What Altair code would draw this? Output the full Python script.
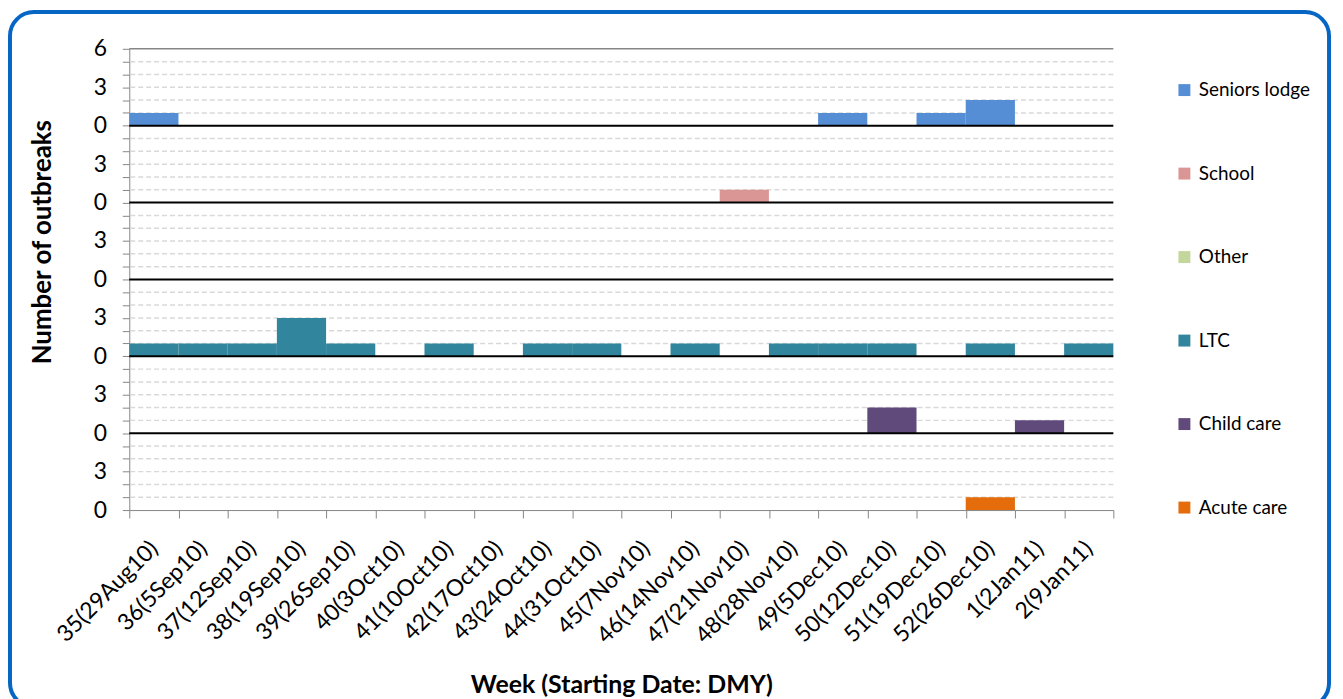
import altair as alt
import pandas as pd

weeks = ["35(29Aug10)", "36(5Sep10)", "37(12Sep10)", "38(19Sep10)", "39(26Sep10)",
         "40(3Oct10)", "41(10Oct10)", "42(17Oct10)", "43(24Oct10)", "44(31Oct10)",
         "45(7Nov10)", "46(14Nov10)", "47(21Nov10)", "48(28Nov10)", "49(5Dec10)",
         "50(12Dec10)", "51(19Dec10)", "52(26Dec10)", "1(2Jan11)", "2(9Jan11)"]

acute_care    = [0, 0, 0, 0, 0, 0, 0, 0, 0, 0, 0, 0, 0, 0, 0, 0, 0, 1, 0, 0]
child_care    = [0, 0, 0, 0, 0, 0, 0, 0, 0, 0, 0, 0, 0, 0, 0, 2, 0, 0, 1, 0]
ltc           = [1, 1, 1, 3, 1, 0, 1, 0, 1, 1, 0, 1, 0, 1, 1, 1, 0, 1, 0, 1]
other         = [0, 0, 0, 0, 0, 0, 0, 0, 0, 0, 0, 0, 0, 0, 0, 0, 0, 0, 0, 0]
school        = [0, 0, 0, 0, 0, 0, 0, 0, 0, 0, 0, 0, 1, 0, 0, 0, 0, 0, 0, 0]
seniors_lodge = [1, 0, 0, 0, 0, 0, 0, 0, 0, 0, 0, 0, 0, 0, 1, 0, 1, 2, 0, 0]

# panels from bottom to top
categories = ["Acute care", "Child care", "LTC", "Other", "School", "Seniors lodge"]
series = [acute_care, child_care, ltc, other, school, seniors_lodge]
colors = ["#E46C0A", "#604A7B", "#31859C", "#C3D69B", "#D99694", "#558ED5"]
legend_order = list(reversed(categories))
legend_colors = list(reversed(colors))

PANEL = 6
TOTAL = PANEL * len(categories)

rows = []
for i, (cat, vals) in enumerate(zip(categories, series)):
    for w, v in zip(weeks, vals):
        if v > 0:
            rows.append({"week": w, "category": cat, "base": i * PANEL, "top": i * PANEL + v})
bars_df = pd.DataFrame(rows)

grid_df = pd.DataFrame({"base": [v for v in range(1, TOTAL) if v % PANEL != 0]})
base_df = pd.DataFrame({"base": [i * PANEL for i in range(1, len(categories))]})
top_df = pd.DataFrame({"base": [TOTAL]})

FONT = "Lato"
yscale = alt.Scale(domain=[0, TOTAL], nice=False, zero=True)

label_expr = ("datum.value % 3 != 0 ? '' : (datum.value == " + str(TOTAL) +
              " ? '6' : (datum.value % " + str(PANEL) + " == 0 ? '0' : '3'))")

yaxis = alt.Axis(values=list(range(0, TOTAL + 1)), labelExpr=label_expr,
                 labelOverlap=False, labelBound=False, labelFlush=False,
                 grid=False, tickSize=7,
                 tickColor="#868686", domainColor="#868686",
                 labelFont=FONT, labelFontSize=23, labelColor="#000000",
                 labelPadding=16, title="Number of outbreaks",
                 titleFont=FONT, titleFontSize=26, titleFontWeight="bold",
                 titleColor="#000000", titleX=-87, titleY=194,
                 titleAngle=-90, titleBaseline="middle", titleAlign="center")

def ychan():
    return alt.Y("base:Q", scale=yscale, axis=yaxis)

bars = alt.Chart(bars_df).mark_bar().encode(
    x=alt.X("week:N", sort=weeks,
            scale=alt.Scale(domain=weeks, paddingInner=0, paddingOuter=0),
            axis=alt.Axis(tickBand="extent", labelAngle=-45, labelAlign="right",
                          labelBaseline="middle", labelFont=FONT, labelFontSize=23,
                          labelColor="#000000", labelPadding=27, tickSize=8,
                          tickColor="#868686", domainColor="#868686",
                          title="Week (Starting Date: DMY)", titleFont=FONT,
                          titleFontSize=25, titleFontWeight="bold", titleColor="#000000",
                          titleX=495, titleY=176, titleBaseline="middle",
                          titleAlign="center", grid=False, labelOverlap=False)),
    y=ychan(),
    y2="top:Q",
    color=alt.Color("category:N",
                    scale=alt.Scale(domain=legend_order, range=legend_colors),
                    legend=alt.Legend(orient="none", legendX=1052, legendY=32,
                                      title=None, symbolType="square", symbolSize=144,
                                      symbolStrokeWidth=0, labelFont=FONT,
                                      labelFontSize=19, labelColor="#000000",
                                      labelOffset=5, rowPadding=64, padding=0)),
)

grid = alt.Chart(grid_df).mark_rule(color="#d9d9d9", strokeDash=[5, 3], strokeWidth=1.5).encode(
    y=ychan()
)
baselines = alt.Chart(base_df).mark_rule(color="#000000", strokeWidth=2).encode(
    y=ychan()
)
topline = alt.Chart(top_df).mark_rule(color="#868686", strokeWidth=1.5).encode(
    y=ychan()
)

frame = alt.Chart(pd.DataFrame({"a": [0]})).mark_rect(
    fillOpacity=0, stroke="#0766C4", strokeWidth=4, cornerRadius=24
).encode(
    x=alt.value(-120), x2=alt.value(1207), y=alt.value(-37), y2=alt.value(662)
)

chart = alt.layer(frame, grid, bars, baselines, topline).properties(
    width=990, height=464,
    autosize=alt.AutoSizeParams(type="none"),
    padding={"left": 122, "top": 39, "right": 223, "bottom": 188},
    background="white",
).configure_view(stroke=None)

chart.save("out.html", embed_options={"renderer": "svg", "actions": False})
